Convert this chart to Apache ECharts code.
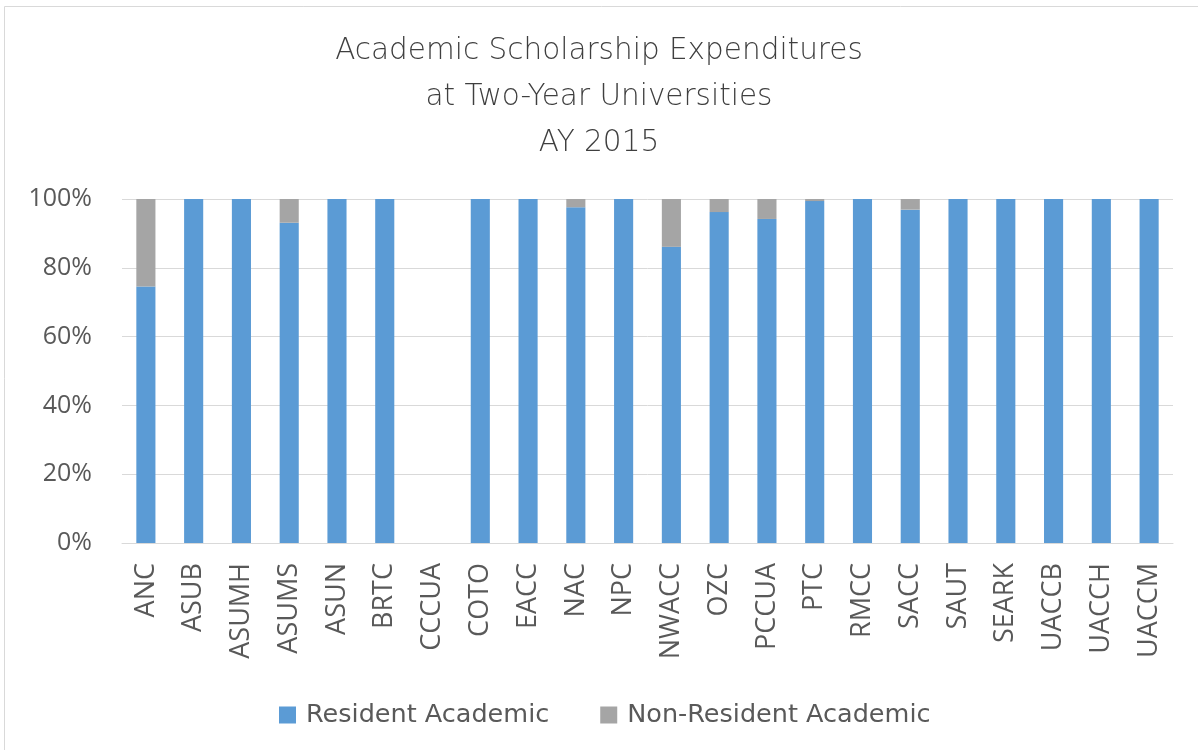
<!DOCTYPE html>
<html>
<head>
<meta charset="utf-8">
<script src="https://cdn.jsdelivr.net/npm/echarts@6/dist/echarts.min.js"></script>
<style>
  html, body { margin: 0; padding: 0; background: #fff; }
  #chart { width: 1198px; height: 750px; }
</style>
</head>
<body>
<div id="chart"></div>
<script>
const categories = ["ANC", "ASUB", "ASUMH", "ASUMS", "ASUN", "BRTC", "CCCUA", "COTO", "EACC", "NAC", "NPC",
  "NWACC", "OZC", "PCCUA", "PTC", "RMCC", "SACC", "SAUT", "SEARK", "UACCB", "UACCH", "UACCM"];
// percent of academic scholarship expenditures
const resident = [74.6, 100, 100, 93.1, 100, 100, null, 100, 100, 97.6, 100,
  86.1, 96.2, 94.2, 99.4, 100, 96.9, 100, 100, 100, 100, 100];
const nonResident = [25.4, 0, 0, 6.9, 0, 0, null, 0, 0, 2.4, 0,
  13.9, 3.8, 5.8, 0.6, 0, 3.1, 0, 0, 0, 0, 0];
const yTicks = [0, 20, 40, 60, 80, 100];

const font = "Open Sans, Liberation Sans, sans-serif";
const wideFont = "DejaVu Sans, Open Sans, sans-serif";
const textColor = "#595959";

const chart = echarts.init(document.getElementById("chart"));
chart.setOption({
  animation: false,
  title: {
    text: "Academic Scholarship Expenditures\nat Two-Year Universities\nAY 2015",
    left: "center",
    top: 23,
    textStyle: { fontFamily: wideFont, fontWeight: 200, fontSize: 29.5, lineHeight: 46, color: "#3f3f3f" }
  },
  graphic: [{
    type: "rect",
    shape: { x: 4.5, y: 6.5, width: 1200, height: 760 },
    style: { fill: "none", stroke: "#d9d9d9", lineWidth: 1 },
    silent: true
  }],
  legend: {
    left: 274,
    top: 697,
    itemWidth: 17,
    itemHeight: 17,
    itemGap: 51,
    icon: "rect",
    textStyle: { fontFamily: wideFont, fontSize: 25.5, color: textColor, padding: [0, 0, 0, 5] },
    data: ["Resident Academic", "Non-Resident Academic"]
  },
  grid: { left: 122, right: 25, top: 199, bottom: 207, containLabel: false },
  xAxis: {
    type: "category",
    data: categories,
    axisLine: { lineStyle: { color: "#d9d9d9", width: 1 } },
    axisTick: { show: false },
    axisLabel: { rotate: 90, margin: 20, fontFamily: font, fontSize: 27, color: textColor, interval: 0 }
  },
  yAxis: {
    type: "value",
    min: yTicks[0],
    max: yTicks[yTicks.length - 1],
    interval: 20,
    axisLine: { show: false },
    axisTick: { show: false },
    splitLine: { lineStyle: { color: "#d9d9d9", width: 1 } },
    axisLabel: { margin: 30, fontFamily: font, fontSize: 25, color: textColor, formatter: "{value}%" }
  },
  series: [
    {
      name: "Resident Academic",
      type: "bar",
      stack: "total",
      data: resident,
      barCategoryGap: "60%",
      itemStyle: { color: "#5b9bd5" }
    },
    {
      name: "Non-Resident Academic",
      type: "bar",
      stack: "total",
      data: nonResident,
      barCategoryGap: "60%",
      itemStyle: { color: "#a5a5a5" }
    }
  ]
});
</script>
</body>
</html>
